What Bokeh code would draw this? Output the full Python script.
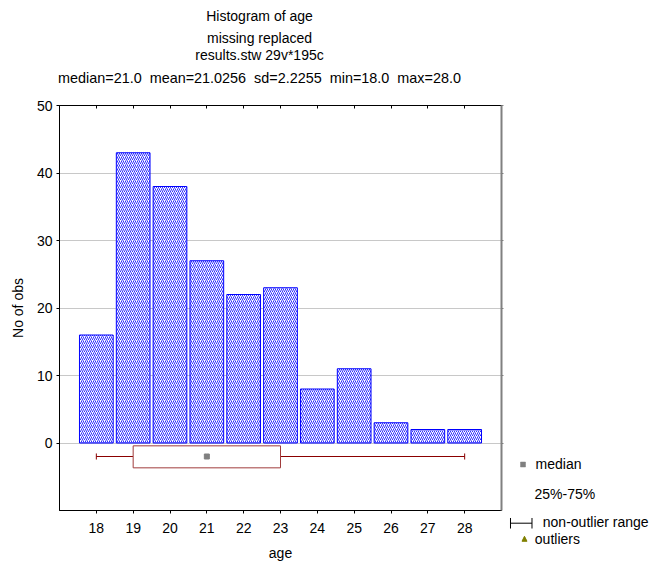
from bokeh.plotting import figure
from bokeh.models import Range1d, FixedTicker, LinearAxis
from bokeh.core.properties import value
from bokeh.embed import file_html
from bokeh.resources import INLINE

# ---- data ----
ages = [18, 19, 20, 21, 22, 23, 24, 25, 26, 27, 28]
counts = [16, 43, 38, 27, 22, 23, 8, 11, 3, 2, 2]
x_ticks = [18, 19, 20, 21, 22, 23, 24, 25, 26, 27, 28]
y_ticks = [0, 10, 20, 30, 40, 50]
title_lines = [
    "Histogram of age",
    "missing replaced",
    "results.stw 29v*195c",
]
stats_line = "median=21.0\u00a0 mean=21.0256\u00a0 sd=2.2255\u00a0 min=18.0\u00a0 max=28.0"
stat_min, stat_q1, stat_median, stat_q3, stat_max = 18, 19, 21, 23, 28
legend_labels = ["median", "25%-75%", "non-outlier range", "outliers"]

FONT = "Liberation Sans"
FS = "14px"

p = figure(
    frame_width=442, frame_height=405,
    x_range=Range1d(17, 29), y_range=Range1d(-10, 50),
    output_backend="svg", toolbar_location=None,
    min_border_left=59, min_border_right=149, min_border_top=105, min_border_bottom=53,
    background_fill_color="white", border_fill_color="white",
    outline_line_color="black",
)

# axes
for ax in (p.xaxis[0], p.yaxis[0]):
    ax.axis_line_color = "black"
    ax.major_tick_line_color = "black"
    ax.minor_tick_line_color = None
    ax.major_tick_in = 0
    ax.major_tick_out = 3
    ax.major_label_text_font = FONT
    ax.major_label_text_font_size = FS
    ax.major_label_text_color = "black"
    ax.axis_label_text_font = FONT
    ax.axis_label_text_font_size = FS
    ax.axis_label_text_font_style = "normal"
    ax.axis_label_text_color = "black"

p.xaxis.ticker = FixedTicker(ticks=x_ticks)
p.yaxis.ticker = FixedTicker(ticks=y_ticks)
p.xaxis.axis_label = "age"
p.yaxis.axis_label = "No of obs"
p.xaxis.major_label_standoff = 9
p.xaxis.axis_label_standoff = 9
p.yaxis.major_label_standoff = 4
p.yaxis.axis_label_standoff = 8

top_axis = LinearAxis(
    ticker=FixedTicker(ticks=x_ticks),
    major_label_overrides={t: "" for t in x_ticks},
    major_tick_in=3, major_tick_out=0, minor_tick_line_color=None,
    axis_line_color="black", major_tick_line_color="black",
)
p.add_layout(top_axis, "above")
right_axis = LinearAxis(
    ticker=FixedTicker(ticks=y_ticks),
    major_label_overrides={t: "" for t in y_ticks},
    major_tick_in=0, major_tick_out=2, minor_tick_line_color=None,
    axis_line_color="#808080", axis_line_width=2, major_tick_line_color="#808080",
)
p.add_layout(right_axis, "right")

p.xgrid.visible = False
p.ygrid.grid_line_color = "#c8c8c8"
p.ygrid.grid_line_width = 1

# histogram bars
p.vbar(x=ages, top=counts, bottom=0, width=0.915,
       fill_color="white", line_color="#0000ff", line_width=1,
       hatch_pattern="/", hatch_color="#3030ff", hatch_scale=4, hatch_weight=1)

# box plot under histogram
box_y, box_top, box_bot, cap_h = -2.0, -0.42, -3.68, 0.45
whisk_col = "#8b0000"
p.segment(x0=[stat_min, stat_q3], x1=[stat_q1, stat_max], y0=[box_y, box_y], y1=[box_y, box_y],
          line_color=whisk_col, line_width=1)
p.segment(x0=[stat_min, stat_max], x1=[stat_min, stat_max],
          y0=[box_y - cap_h] * 2, y1=[box_y + cap_h] * 2, line_color=whisk_col, line_width=1)
p.quad(left=[stat_q1], right=[stat_q3], bottom=[box_bot], top=[box_top],
       fill_color="white", line_color="#a03c3c", line_width=1)
p.scatter(x=[stat_median], y=[box_y], marker="square", size=5,
          fill_color="#808080", line_color="#808080")

# titles (drawn above the frame)
title_x = 22.430
p.text(x=[title_x] * 3, y=[63.33, 60.04, 57.41], text=title_lines,
       text_align="center", text_baseline="alphabetic",
       text_font=value(FONT), text_font_size=value(FS), text_color="black",
       level="overlay")
p.text(x=[title_x], y=[54.04], text=[stats_line],
       text_align="center", text_baseline="alphabetic",
       text_font=value(FONT), text_font_size=value("14.4px"), text_color="black",
       level="overlay")

# legend (right of the frame)
p.quad(left=[29.516], right=[29.652], bottom=[-3.555], top=[-2.815],
       fill_color="#808080", line_color="#808080", line_width=0.5, level="overlay")
p.segment(x0=[29.244], x1=[29.828], y0=[-11.88], y1=[-11.88], line_color="black", level="overlay")
p.segment(x0=[29.244, 29.828], x1=[29.244, 29.828], y0=[-11.11] * 2, y1=[-12.67] * 2,
          line_color="black", level="overlay")
p.patch(x=[29.557, 29.624, 29.692], y=[-14.56, -13.82, -14.56],
        fill_color="#808000", line_color="#808000", level="overlay")
p.text(x=[29.924, 29.897, 30.121, 29.905], y=[-3.16, -7.60, -11.70, -14.18],
       text=legend_labels, text_align="left", text_baseline="alphabetic",
       text_font=value(FONT), text_font_size=value(FS), text_color="black",
       level="overlay")

open("out.html", "w").write(file_html(p, INLINE))
